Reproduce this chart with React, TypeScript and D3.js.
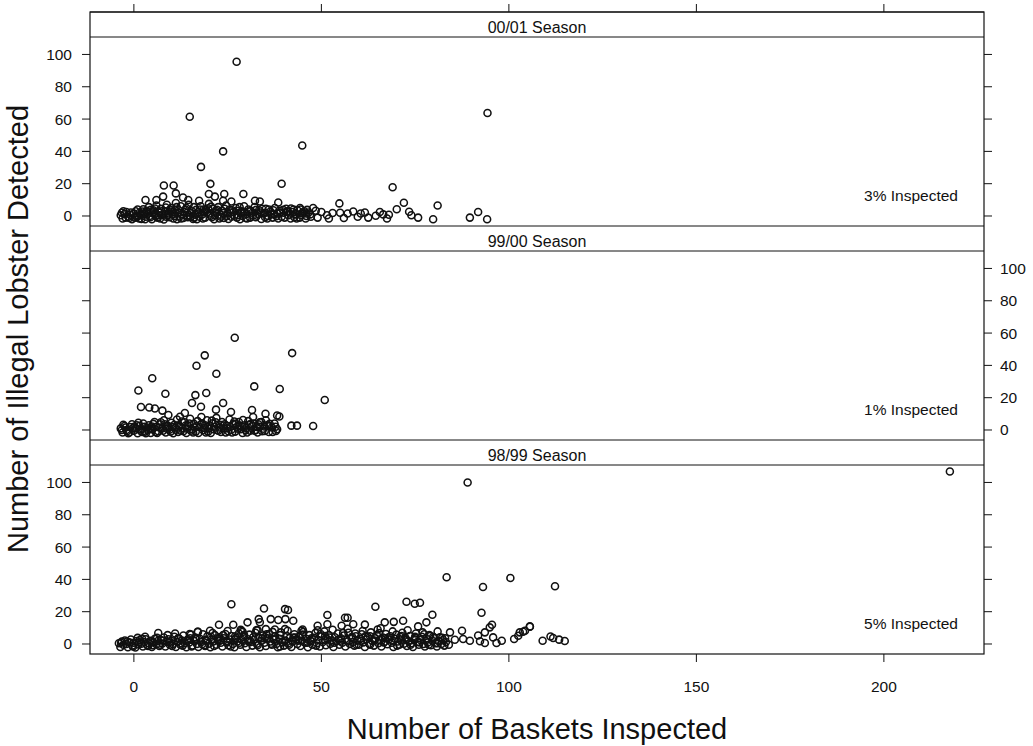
import React from "react";
import * as d3 from "d3";

// Baskets inspected (x) vs illegal lobster detected (y), one array per season
const season0001: [number, number][] = [
  [27.4, 95.5], [14.9, 61.4], [94.3, 63.7], [44.9, 43.6], [23.8, 40], [17.9, 30.4],
  [8, 18.9], [10.6, 18.9], [20.4, 19.9], [39.4, 20], [69, 17.8], [20, 13.6], [24.1, 13.6],
  [29.2, 13.6], [11.2, 14], [3.1, 9.9], [6, 9.9], [7.8, 12], [13.1, 11.5], [14.5, 9.9],
  [17.4, 9.4], [21.6, 12], [23.8, 9.4], [26, 9], [32.3, 9.4], [33.6, 9], [38.5, 8.3],
  [41.9, 4.7], [44.3, 5], [47.8, 5], [54.8, 7.8], [72, 8.2], [70.1, 4.2], [73.4, 2.6],
  [75.8, -1], [79.8, -2], [81, 6.5], [89.6, -1], [91.8, 2.5], [94.2, -2], [74, 0.5],
  [50, 2.5], [51.5, 0.5], [53, 1.8], [55, 2], [57, 1.5], [58.5, 2.8], [59.7, -0.5],
  [60.5, 1.5], [61.6, 2.2], [62.5, -1], [64.5, 0.2], [65.6, 2.5], [66.5, 1], [67.5, -1.5],
  [68, 0.8], [52, -1.5], [56, -1.2], [48.5, 3.2], [46, 1.5], [49, -1],
  [-3.5, 0.5], [-3, -1.5], [-2.5, 1.2], [-2, 2.5], [-1.5, -0.5], [-1, 0.8], [-0.5, -2],
  [0, 1.5], [0.5, 3], [0.8, -0.8], [1.2, 0.2], [1.5, 2], [2, -1.8], [2.5, 4.2], [2.8, 1],
  [3.2, -0.5], [3.5, 2.5], [4, 5.5], [4.2, 0], [4.8, -2], [5.2, 3.5], [5.5, 1.2], [6, 6.5],
  [6.3, -1], [6.8, 2], [7.2, 4.5], [7.5, 0.5], [8, -2.2], [8.3, 3], [8.8, 7], [9.2, 1.5],
  [9.5, -0.8], [10, 5], [10.3, 2.5], [10.8, 0], [11.2, 8], [11.5, -2], [12, 3.5], [12.5, 6],
  [12.8, 1], [13.2, -1.2], [13.8, 4], [14.2, 2], [14.6, 7], [15, -0.5], [15.5, 3], [16, 5.5],
  [16.3, 0.8], [16.8, -2], [17.2, 2.5], [17.8, 6], [18.2, 1], [18.6, 4], [19, -1], [19.5, 2.2],
  [20, 7.5], [20.5, 0.2], [21, 4.5], [21.4, -2], [22, 2], [22.5, 5.5], [23, 0.8], [23.5, 3.2],
  [24, -1.2], [24.6, 6.5], [25, 1.5], [25.5, 4], [26, -0.5], [26.6, 2.5], [27.2, 5], [27.8, 0.5],
  [28.3, -2], [28.8, 3], [29.4, 6], [30, 1.2], [30.5, 4], [31, -1], [31.6, 2], [32.2, 5.5],
  [32.8, 0.2], [33.4, 3.5], [34, -1.8], [34.6, 1.5], [35.2, 4.5], [35.8, 0], [36.4, 2.8],
  [37, -1], [37.6, 5], [38.2, 1.5], [38.8, 3.2], [39.4, -0.5], [40, 2], [40.6, 4.5], [41.2, 0.5],
  [41.8, -1.5], [42.4, 2.5], [43, 1], [43.6, 3.5], [44.2, -1], [44.8, 1.8], [45.4, 3], [46, 0],
  [46.6, 2.2], [47.2, -0.5],
  [-2.8, 3], [-1.2, -1.2], [0.2, -1], [1, 4], [1.8, 0.8], [2.2, 2.8], [3, -2], [3.8, 1.5],
  [4.5, 3.8], [5.8, -0.2], [6.5, 2.8], [7, -1.5], [8.5, 5.2], [9, 0.5], [9.8, 2.8], [10.5, -1.5],
  [11, 3.8], [12.2, -0.3], [13.5, 2.5], [14.8, 0.5], [15.8, -1.8], [16.6, 3.8], [17.5, -0.5],
  [18.8, 2.8], [19.8, 4.8], [20.8, -0.8], [21.8, 3.2], [22.8, -1.5], [23.8, 1.8], [25.2, -1.8],
  [26.2, 3.5], [27.5, -1], [28.5, 1.8], [29.8, -1.2], [31.2, 3.2], [32.5, -0.8], [33.8, 2.2],
  [35, -0.8], [36, 4], [37.4, 1.2], [38.5, -1.5], [39.8, 3.8], [41, 2.8], [42.8, -0.8],
  [44.5, 4], [45.8, -1.5],
  [-3.2, 2], [-2.2, -1], [-0.8, 2.2], [0.6, 0.2], [1.4, -1.5], [2.6, 1.5], [3.4, 3.2], [4.4, -0.8],
  [5, 2.2], [5.6, 4.6], [6.6, 0.5], [7.4, 3], [8.2, 1], [8.6, -0.5], [9.6, 4], [10.6, 1.2],
  [11.4, 5.5], [11.8, 2], [12.6, -1.5], [13.4, 0.5], [14, 5], [14.4, -0.8], [15.2, 1.8], [16, -1],
  [16.8, 1.2], [17.6, 4], [18.4, -1.5], [19.2, 3.8], [20.2, 1.5], [20.6, 5.8], [21.6, 0.5],
  [22.2, 3.8], [23.2, -0.5], [24.2, 4.5], [24.8, 0], [25.8, 2.2], [26.8, 0.2], [27.6, 3.2],
  [28.2, 5.5], [29, 0], [29.6, 2.5], [30.2, -1.5], [30.8, 2.8], [31.8, 0.2], [32.6, 3.8],
  [33.2, 1.2], [34.2, 4.5], [35, 2], [35.6, -1.5], [36.6, 1], [37.2, 3.5], [38, -0.2], [39, 1.8],
  [40.2, -1], [40.8, 3], [41.6, 1.5], [42.6, 4], [43.4, -1.5], [44.6, 0.5], [45.2, 1.8],
  [46.2, 3.8], [47, 1],
];

const season9900: [number, number][] = [
  [26.9, 57.1], [18.9, 46.2], [42.2, 47.6], [16.7, 39.8], [22, 34.8], [4.9, 32], [1.2, 24.5],
  [32.1, 27], [38.9, 25.4], [8.4, 22.5], [16.4, 21.6], [19.3, 22.9], [50.9, 18.6], [1.9, 14.2],
  [4.1, 13.9], [5.6, 13.3], [7.6, 12], [15.5, 16.7], [17.9, 14.4], [23.8, 16.7], [21.9, 12.6],
  [25.9, 11.2], [31.5, 12.4], [35.1, 10], [38.2, 9], [38.8, 8.4], [42, 2.7], [43.5, 2.7],
  [47.8, 2.5], [37.9, -0.6], [36.1, 2.5], [34.9, -0.6], [9.2, 9.3], [12.3, 8.2], [13.6, 10.5],
  [29.1, 6.2], [31.8, 8], [33.6, 4.8],
  [-3.5, 1], [-3, -1.5], [-2.5, 2.5], [-2, 0], [-1.5, -2], [-1, 1.8], [-0.5, 3.5], [0, -0.5],
  [0.5, 1], [1, -2], [1.5, 2.5], [2, 0.5], [2.5, 4], [3, -1], [3.5, 1.5], [4, 3], [4.5, -1.8],
  [5, 0.5], [5.5, 5], [6, 2], [6.5, -0.8], [7, 3.5], [7.5, 1], [8, 6], [8.5, -1.5], [9, 2.8],
  [9.5, 0.2], [10, 4.5], [10.5, -2], [11, 1.5], [11.5, 6.5], [12, 3], [12.5, -0.5], [13, 1.2],
  [13.5, 4.8], [14, -1.8], [14.5, 2.5], [15, 7], [15.5, 0.5], [16, 3.8], [16.5, -1], [17, 5.5],
  [17.5, 1.8], [18, 8], [18.5, -0.2], [19, 3], [19.5, 6], [20, 1], [20.5, -1.8], [21, 4.2],
  [21.5, 2], [22, 7.5], [22.5, -0.5], [23, 3.2], [23.5, 5], [24, 1], [24.5, -1.5], [25, 2.5],
  [25.5, 6.5], [26, 0.2], [26.5, 3.8], [27, -1], [27.5, 2], [28, 5], [28.5, 0.5], [29, -1.8],
  [29.5, 3], [30, 1.2], [30.5, 5.5], [31, -0.5], [31.5, 2.5], [32, 4], [32.5, 0], [33, -1.5],
  [33.5, 2], [34, 5], [34.5, 0.8], [35.5, 3], [36, -1.2], [36.8, 1.5], [37.5, 4], [38.2, 0.5],
  [-2.8, 3.2], [-1.8, -0.8], [0.2, 2.2], [1.2, 4.5], [2.2, -1.2], [3.8, 0], [4.8, 2.2],
  [6.2, -1.8], [7.2, 4.8], [8.8, 0.8], [10.2, 2], [11.8, -1.2], [12.8, 5.2], [14.2, 0.8],
  [15.8, -1.5], [16.8, 2.5], [18.2, 4.2], [19.8, -1], [20.8, 5.8], [22.2, 0], [23.8, 2.8],
  [25.2, -0.8], [26.8, 5.2], [28.2, 2.8], [29.8, -0.2], [31.2, 3.8], [32.8, 1.8], [34.2, -0.8],
  [35.2, 6], [37, -1.2],
  [-3.2, 0], [-2.2, 1.5], [-1.2, -1.5], [-0.2, 1.2], [0.8, 3], [1.8, -0.5], [2.8, 2], [3.2, -2],
  [4.2, 1], [5.2, 3.8], [5.8, -1.2], [6.8, 1.5], [7.8, -0.5], [8.2, 3.5], [9.2, 1.8], [9.8, -1],
  [10.8, 3.2], [11.2, 0.2], [12.2, 2], [13.2, -0.8], [13.8, 2.8], [14.8, 4], [15.2, -0.5],
  [16.2, 1.5], [17.2, -1.8], [17.8, 3.2], [18.8, 1.2], [19.2, -1.5], [20.2, 2.8], [21.2, 0.5],
  [21.8, 4.8], [22.8, 1.5], [23.2, -1.2], [24.2, 3.5], [25, 1], [26.2, -1.5], [27.2, 3.8],
  [27.8, 0.8], [28.8, 2.2], [30.2, -1.5], [30.8, 3.2], [32.2, -0.5], [33.2, 3.5], [34.8, 2.2],
  [36.2, 3.8], [37.8, 2],
];

const season9899: [number, number][] = [
  [89, 100], [217.6, 106.8], [83.4, 41.3], [100.4, 40.9], [93.1, 35.3], [112.3, 35.7],
  [92.7, 19.3], [26, 24.6], [34.7, 22], [40.3, 21.6], [41.1, 21], [51.6, 17.9], [56.3, 16.2],
  [57, 16.2], [64.4, 23], [72.7, 26.1], [74.9, 24.9], [76.3, 25.5], [79.6, 18.1], [78, 13.4],
  [75.8, 10.9], [71.8, 14.4], [69.3, 13.7], [66.9, 13.4], [65.8, 9.7], [61.6, 12], [58.5, 12.2],
  [55.4, 11.3], [51.6, 12.2], [49, 11.3], [42.5, 14.4], [40.4, 15.4], [38.5, 14.9], [36.5, 15.4],
  [33.3, 15.4], [33.6, 13.5], [30.3, 13.4], [26.5, 11.9], [22.7, 11.9], [28.5, 8.8], [17.1, 7.6],
  [6.5, 6.8], [84.3, 7.2], [87.5, 8.2], [95.5, 11.9], [94.9, 10.3], [93.6, 7.2], [91.8, 5.2],
  [87.8, 3.1], [89.6, 2], [85.6, 2.6], [92.3, 1.7], [93.6, 0.6], [95.8, 4.1], [96.7, 0.6],
  [98.1, 2], [101.4, 3.1], [102.5, 5.1], [103.8, 7.6], [105.6, 10.9], [105.6, 10.7], [104.3, 8.2],
  [102.9, 7.2], [109, 2], [111.1, 4.7], [111.8, 3.7], [113.4, 2.7], [114.9, 1.8], [14.9, 6.2],
  [20.3, 8.2], [28.7, 8.2], [32.7, 8.6], [35.2, 9.2], [37.6, 9], [40.3, 9.2], [44.7, 8.2],
  [-4, 0.5], [-3.6, -1.8], [-3.2, 1.5], [-2.8, -0.5], [-2.4, 2.2], [-2, 0], [-1.6, -2], [-1.2, 1],
  [-0.8, 2.8], [-0.4, -1], [0, 0.8], [0.4, -2.2], [0.8, 1.8], [1.2, -0.3], [1.6, 2.5], [2, 0.2],
  [2.4, -1.5], [2.8, 1.2], [3.2, 3], [3.6, -0.8], [4, 0.5], [4.4, 2], [4.8, -1.8], [5.2, 1],
  [5.6, 3.2], [6, -0.2], [6.4, 1.8], [6.8, -1.2], [7.2, 2.5], [7.6, 0.3], [8, 4], [8.4, -1.5],
  [8.8, 1.5], [9.2, 3], [9.6, -0.5], [10, 2], [10.4, 0], [10.8, 4.5], [11.2, -1.8], [11.6, 1.2],
  [12, 3.5], [12.4, -0.5], [12.8, 2.2], [13.2, 5.2], [13.6, 0.5], [14, -2], [14.4, 3], [14.8, 1],
  [15.2, 5.8], [15.6, -1], [16, 2], [16.4, 4], [16.8, 0], [17.2, -1.8], [17.6, 3.2], [18, 1.2],
  [18.4, 6], [18.8, -0.8], [19.2, 2.5], [19.6, 4.8], [20, 0.2], [20.4, -2], [20.8, 3], [21.2, 1.5],
  [21.6, 5.5], [22, -0.5], [22.4, 2.2], [22.8, 4.2], [23.2, 0.8], [23.6, -1.5], [24, 3.5],
  [24.4, 6.2], [24.8, 1], [25.2, -0.8], [25.6, 2.8], [26, 5], [26.4, 0], [26.8, -2], [27.2, 3.8],
  [27.6, 1.5], [28, 6.5], [28.4, -0.5], [28.8, 2.5], [29.2, 4.5], [29.6, 0.5], [30, -1.8],
  [30.4, 3], [30.8, 5.8], [31.2, 1.2], [31.6, -1], [32, 2.5], [32.4, 7], [32.8, 0.2], [33.2, 4],
  [33.6, -2], [34, 2], [34.4, 5.2], [34.8, 0.8], [35.2, -1.2], [35.6, 3.5], [36, 6.2], [36.4, 1.5],
  [36.8, -0.5], [37.2, 2.8], [37.6, 4.8], [38, 0], [38.4, -2], [38.8, 3.2], [39.2, 7.2], [39.6, 1],
  [40, -1], [40.4, 2.2], [40.8, 5], [41.2, 0.5], [41.6, 3.8], [42, -1.8], [42.4, 1.5], [42.8, 6],
  [43.2, 2.8], [43.6, 0], [44, 4.5], [44.4, -1.2], [44.8, 2], [45.2, 7.5], [45.6, 0.8], [46, 3.2],
  [46.4, -2], [46.8, 5.5], [47.2, 1.8], [47.6, -0.5], [48, 3.8], [48.4, 6.8], [48.8, 0.5],
  [49.2, 2.5], [49.6, -1.5], [50, 4.8], [50.4, 1.2], [50.8, 7.8], [51.2, -0.8], [51.6, 3],
  [52, 5.5], [52.4, 0.2], [52.8, 2.2], [53.2, -1.8], [53.6, 4.2], [54, 1.5], [54.4, 6.5],
  [54.8, -0.5], [55.2, 3.5], [55.6, 0.8], [56, 5.2], [56.4, -1.5], [56.8, 2.5], [57.2, 7],
  [57.6, 0], [58, 3.8], [58.4, 1.2], [58.8, -1], [59.2, 4.8], [59.6, 2], [60, -0.5], [60.4, 3.2],
  [60.8, 6], [61.2, 1], [61.6, -1.8], [62, 2.8], [62.4, 4.5], [62.8, 0.2], [63.2, 7.2], [63.6, 1.8],
  [64, -1], [64.4, 3.5], [64.8, 5.5], [65.2, 0.5], [65.6, 2.5], [66, -1.5], [66.4, 4], [66.8, 1.2],
  [67.2, 6.2], [67.6, -0.2], [68, 2.8], [68.4, 4.8], [68.8, 0.8], [69.2, -1.8], [69.6, 3.2],
  [70, 5.8], [70.4, 1.5], [70.8, -0.5], [71.2, 2.2], [71.6, 7], [72, 0.2], [72.4, 3.8],
  [72.8, -1.2], [73.2, 1.8], [73.6, 5], [74, 0.5], [74.4, -1.8], [74.8, 3], [75.2, 6.5],
  [75.6, 1.2], [76, -0.5], [76.4, 2.5], [76.8, 4.5], [77.2, 0], [77.6, -1.5], [78, 3.2], [78.4, 1],
  [78.8, 5.5], [79.2, -0.8], [79.6, 2], [80, 3.8], [80.4, 0.5], [80.8, -1.5], [81.2, 1.8],
  [81.6, 4.2], [82, 0], [82.4, 2.5], [82.8, -1], [83.2, 1.2],
  [1, 3.8], [3, 4.5], [5, -0.8], [9, 5.5], [11, 6.5], [13, -1], [15, 3.5], [17, 7.5], [19, -1.2],
  [21, 6.8], [23, 2], [25, 8], [27, 4.8], [29, 7.5], [31, 2], [33, 8.5], [35, 4.2], [37, 7.5],
  [39, -1.5], [41, 8.2], [43, 4], [45, 9], [47, 2.5], [49, 8.5], [51, 5], [53, 8.8], [55, 2],
  [57, 9.5], [59, 6.5], [61, 8], [63, 4.8], [65, 9], [67, 3.5], [69, 7.8], [71, 4.5], [73, 8.5],
  [75, 3.8], [77, 7.2], [79, 5], [81, 7.8], [83, 3.5], [84, -0.5],
  [-3.4, 0.8], [-1.8, 1.5], [-0.2, -1.5], [1.4, 1], [2.2, 3.2], [3.8, -1.2], [4.6, 1.5], [6.2, 3.8],
  [7, -0.5], [7.8, 2], [9.4, 1], [10.2, -1.2], [11.8, 3.5], [12.6, 0.5], [14.2, 2], [15.4, -1.5],
  [16.6, 3], [18.2, -0.2], [19.4, 1.8], [20.6, 4.5], [21.4, -1.2], [22.6, 3.2], [23.8, 5.5],
  [25, 1.8], [25.8, -1.5], [27, 2.8], [28.2, 0.8], [29.4, 5.5], [30.6, 1.5], [31.8, 4.2],
  [33, -0.8], [34.2, 3.5], [35.4, 6], [36.6, 0.2], [37.8, 3], [39, 5.5], [40.2, 1.8], [41.4, -0.5],
  [42.6, 4], [43.8, 2], [45, 5.8], [46.2, 0.8], [47.4, 3.5], [48.6, -1], [49.8, 6.2], [51, 2.5],
  [52.2, 4], [53.4, 0.8], [54.6, 3], [55.8, 6.8], [57, 1.5], [58.2, 4.5], [59.4, -0.5], [60.6, 2],
  [61.8, 5], [63, -0.5], [64.2, 2.2], [65.4, 6.8], [66.6, 1], [67.8, 4], [69, 2], [70.2, -1],
  [71.4, 5], [72.6, 2.5], [73.8, -0.5], [75, 4.5], [76.2, 1], [77.4, 6], [78.6, -0.5], [79.8, 4.5],
  [81, 0.5], [82.2, 3.8],
];

const seasonLabels = ["00/01 Season", "99/00 Season", "98/99 Season"];
const inspectedLabels = ["3% Inspected", "1% Inspected", "5% Inspected"];
const seasonData = [season0001, season9900, season9899];
const xTicks = [0, 50, 100, 150, 200];
const yTicks = [0, 20, 40, 60, 80, 100];
const xTitle = "Number of Baskets Inspected";
const yTitle = "Number of Illegal Lobster Detected";

const W = 1033;
const H = 746;
const left = 90;
const right = 984;
const top = 12;
const stripH = 25;
const panelH = 189;
const font = "'Liberation Sans', Arial, sans-serif";
const ink = "#111";

export default function App() {
  const x = d3.scaleLinear().domain([-11.7, 226.7]).range([left, right]);
  const bottom = top + 3 * (stripH + panelH);

  const panels = seasonData.map((pts, i) => {
    const stripTop = top + i * (stripH + panelH);
    const pTop = stripTop + stripH;
    const pBottom = pTop + panelH;
    const y = d3.scaleLinear().domain([-6.19, 110.8]).range([pBottom, pTop]);
    const labelsRight = i === 1;
    return (
      <g key={i}>
        <line x1={left} x2={right} y1={stripTop} y2={stripTop} stroke={ink} strokeWidth={1} />
        <line x1={left} x2={right} y1={pTop} y2={pTop} stroke={ink} strokeWidth={1} />
        <text x={(left + right) / 2} y={stripTop + 21} textAnchor="middle" fontSize={16} fill={ink} fontFamily={font}>
          {seasonLabels[i]}
        </text>
        <text x={958} y={pBottom - 25} textAnchor="end" fontSize={15.5} fill={ink} fontFamily={font}>
          {inspectedLabels[i]}
        </text>
        {yTicks.map((t) => (
          <g key={t}>
            <line x1={left - 8} x2={left} y1={y(t)} y2={y(t)} stroke={ink} strokeWidth={1} />
            <line x1={right} x2={right + 8} y1={y(t)} y2={y(t)} stroke={ink} strokeWidth={1} />
            {labelsRight ? (
              <text x={1000} y={y(t) + 5.5} fontSize={15.5} fill={ink} fontFamily={font}>{t}</text>
            ) : (
              <text x={72} y={y(t) + 5.5} textAnchor="end" fontSize={15.5} fill={ink} fontFamily={font}>{t}</text>
            )}
          </g>
        ))}
        <clipPath id={`clip${i}`}>
          <rect x={left} y={pTop} width={right - left} height={panelH} />
        </clipPath>
        <g clipPath={`url(#clip${i})`}>
          {pts.map((d, k) => (
            <circle key={k} cx={x(d[0])} cy={y(d[1])} r={3.5} fill="none" stroke={ink} strokeWidth={1.55} />
          ))}
        </g>
      </g>
    );
  });

  return (
    <svg width={W} height={H} style={{ position: "absolute", left: 0, top: 0, background: "#fff" }}>
      <rect x={0} y={0} width={W} height={H} fill="#fff" />
      {panels}
      <rect x={left} y={top} width={right - left} height={bottom - top} fill="none" stroke={ink} strokeWidth={1.2} />
      {xTicks.map((t) => (
        <g key={t}>
          <line x1={x(t)} x2={x(t)} y1={top - 8} y2={top} stroke={ink} strokeWidth={1} />
          <line x1={x(t)} x2={x(t)} y1={bottom} y2={bottom + 8} stroke={ink} strokeWidth={1} />
          <text x={x(t)} y={692} textAnchor="middle" fontSize={15.5} fill={ink} fontFamily={font}>{t}</text>
        </g>
      ))}
      <text x={537} y={739} textAnchor="middle" fontSize={29} fill={ink} fontFamily={font}>{xTitle}</text>
      <text transform="translate(28,329) rotate(-90)" textAnchor="middle" fontSize={29} fill={ink} fontFamily={font}>
        {yTitle}
      </text>
    </svg>
  );
}
